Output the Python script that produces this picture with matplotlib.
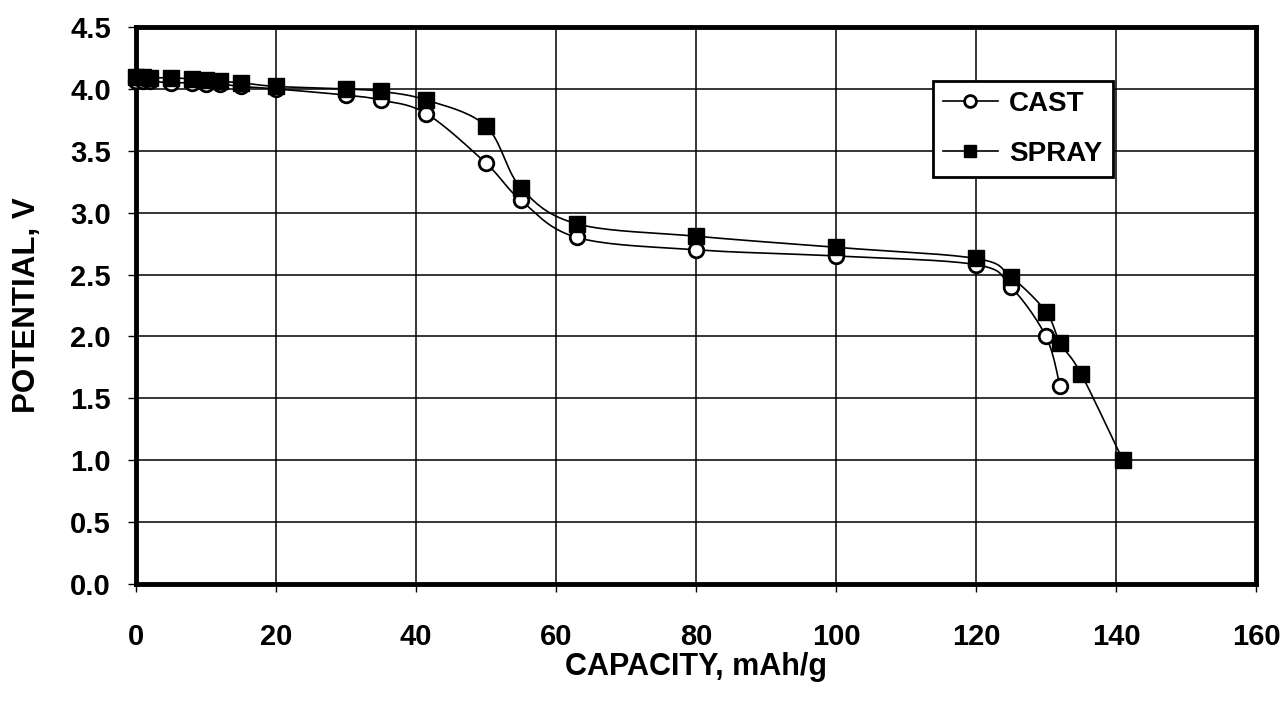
import numpy as np
import matplotlib.pyplot as plt

plt.rcParams['font.family'] = ['Liberation Sans', 'DejaVu Sans']
plt.rcParams['font.weight'] = 'bold'

cast_x = [0, 1, 2, 5, 8, 10, 12, 15, 20, 30, 35, 41.5, 50, 55, 63, 80, 100, 120, 125, 130, 132]
cast_y = [4.06, 4.06, 4.06, 4.05, 4.05, 4.04, 4.04, 4.02, 4.0, 3.95, 3.91, 3.8, 3.4, 3.1, 2.8, 2.7, 2.65, 2.58, 2.4, 2.0, 1.6]

spray_x = [0, 1, 2, 5, 8, 10, 12, 15, 20, 30, 35, 41.5, 50, 55, 63, 80, 100, 120, 125, 130, 132, 135, 141]
spray_y = [4.1, 4.1, 4.09, 4.09, 4.08, 4.07, 4.06, 4.05, 4.02, 4.0, 3.98, 3.91, 3.7, 3.2, 2.91, 2.81, 2.72, 2.63, 2.48, 2.2, 1.95, 1.7, 1.0]


def smooth(x, y, n=20):
    # catmull-rom style curve through the points, like excel's smoothed line
    x = np.asarray(x, float)
    y = np.asarray(y, float)
    px = np.concatenate([[x[0]], x, [x[-1]]])
    py = np.concatenate([[y[0]], y, [y[-1]]])
    xs, ys = [], []
    t = np.linspace(0, 1, n)
    for i in range(1, len(px) - 2):
        p0, p1, p2, p3 = (np.array([px[j], py[j]]) for j in range(i - 1, i + 3))
        c1 = p1 + (p2 - p0) / 6
        c2 = p2 - (p3 - p1) / 6
        b = ((1 - t) ** 3)[:, None] * p1 + (3 * (1 - t) ** 2 * t)[:, None] * c1 \
            + (3 * (1 - t) * t ** 2)[:, None] * c2 + (t ** 3)[:, None] * p2
        xs.append(b[:, 0])
        ys.append(b[:, 1])
    return np.concatenate(xs), np.concatenate(ys)


fig = plt.figure(figsize=(12.85, 7.15), dpi=100)
ax = fig.add_axes([0.1058, 0.1832, 0.8716, 0.779])

sx, sy = smooth(cast_x, cast_y)
ax.plot(sx, sy, color='black', lw=1.2, zorder=3)
ax.plot(cast_x, cast_y, 'o', ms=10.5, mfc='white', mec='black', mew=2, zorder=4, clip_on=False)
sx, sy = smooth(spray_x, spray_y)
ax.plot(sx, sy, color='black', lw=1.2, zorder=3)
ax.plot(spray_x, spray_y, 's', ms=11, mfc='black', mec='black', zorder=4, clip_on=False)

# legend proxies
ax.plot([], [], '-o', color='black', ms=8.5, mfc='white', mew=2, lw=1.2, label='CAST')
ax.plot([], [], '-s', color='black', ms=8.5, mfc='black', lw=1.2, label='SPRAY')

ax.set_xlim(0, 160)
ax.set_ylim(0, 4.5)
ax.set_xticks(np.arange(0, 161, 20))
ax.set_yticks(np.arange(0, 4.51, 0.5))
ax.set_yticklabels([f'{v:.1f}' for v in np.arange(0, 4.51, 0.5)])
ax.grid(True, color='black', lw=1.1)
ax.set_axisbelow(True)
for s in ax.spines.values():
    s.set_linewidth(3.5)
ax.tick_params(labelsize=21, length=6, width=1, direction='out')
ax.tick_params(axis='x', pad=22)
ax.tick_params(axis='y', pad=12)
ax.set_xlabel('CAPACITY, mAh/g', fontsize=22, fontweight='bold', labelpad=1)
ax.set_ylabel('POTENTIAL, V', fontsize=22.5, fontweight='bold', labelpad=20)

leg = ax.legend(loc='upper right', bbox_to_anchor=(0.872, 0.903), borderaxespad=0,
                fontsize=20, frameon=True, fancybox=False, edgecolor='black', framealpha=1,
                handlelength=2.0, handletextpad=0.4, borderpad=0.36, labelspacing=0.87)
leg.get_frame().set_linewidth(2)

fig.savefig('out.png', dpi=100)
